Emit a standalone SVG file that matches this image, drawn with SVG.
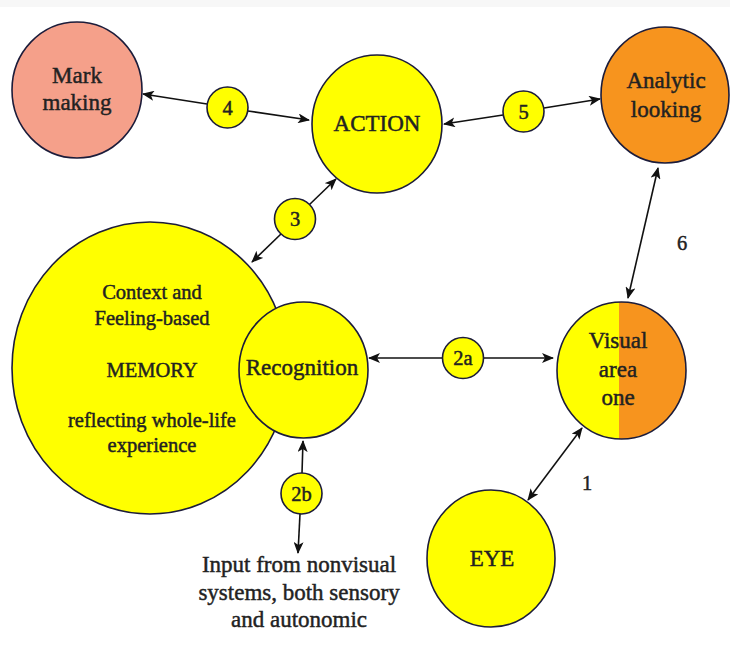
<svg xmlns="http://www.w3.org/2000/svg" width="730" height="651" viewBox="0 0 730 651">
<defs>
<marker id="ah" viewBox="0 0 12 10" markerWidth="12" markerHeight="10" refX="11" refY="5" orient="auto-start-reverse" markerUnits="userSpaceOnUse">
<path d="M0,0 L12,5 L0,10 L3,5 z" fill="#111"/>
</marker>
<clipPath id="vclip">
<ellipse cx="621.5" cy="370.5" rx="64.5" ry="68.5"/>
</clipPath>
<style>
.n{stroke:#1c1c3a;stroke-width:1.6}
.y{fill:#ffff00}
.o{fill:#f7941e}
.p{fill:#f5a08a}
.t{fill:#222;stroke:#222;stroke-width:0.45;text-anchor:middle}
.big{font-size:23px}
.mid{font-size:20.5px}
.c{stroke:#111;stroke-width:1.6;fill:none}
</style>
</defs>
<rect x="0" y="0" width="730" height="651" fill="#fff"/>
<rect x="0" y="0" width="730" height="7" fill="#f7f7f7"/>

<g id="connectors">
<line class="c" x1="207" y1="104" x2="143" y2="94" marker-end="url(#ah)"/>
<line class="c" x1="248" y1="111" x2="309" y2="120" marker-end="url(#ah)"/>
<line class="c" x1="503" y1="115" x2="444" y2="124" marker-end="url(#ah)"/>
<line class="c" x1="544" y1="108" x2="600" y2="99" marker-end="url(#ah)"/>
<line class="c" x1="309" y1="205" x2="336" y2="179" marker-end="url(#ah)"/>
<line class="c" x1="282" y1="233" x2="252" y2="262" marker-end="url(#ah)"/>
<line class="c" x1="658" y1="168" x2="628" y2="298" marker-start="url(#ah)" marker-end="url(#ah)"/>
<line class="c" x1="443" y1="358" x2="369" y2="358" marker-end="url(#ah)"/>
<line class="c" x1="483" y1="358" x2="553" y2="358" marker-end="url(#ah)"/>
<line class="c" x1="302" y1="473" x2="303" y2="441" marker-end="url(#ah)"/>
<line class="c" x1="300" y1="514" x2="298" y2="553" marker-end="url(#ah)"/>
<line class="c" x1="528" y1="500" x2="582" y2="428" marker-start="url(#ah)" marker-end="url(#ah)"/>
</g>

<g font-family="Liberation Serif, Times New Roman, serif">
<g id="mark-making">
<ellipse class="n p" cx="77" cy="90" rx="65" ry="68"/>
<text class="t big" x="77" y="83">Mark</text>
<text class="t big" x="77" y="110">making</text>
</g>

<g id="action">
<ellipse class="n y" cx="377" cy="124" rx="65" ry="69"/>
<text class="t big" x="377" y="131">ACTION</text>
</g>

<g id="analytic-looking">
<ellipse class="n o" cx="665" cy="95" rx="64" ry="68"/>
<text class="t big" x="666" y="88">Analytic</text>
<text class="t big" x="666" y="117">looking</text>
</g>

<g id="memory">
<ellipse class="n y" cx="150" cy="368" rx="138" ry="146"/>
<text class="t mid" x="152" y="299">Context and</text>
<text class="t mid" x="152" y="325">Feeling-based</text>
<text class="t mid" x="152" y="377">MEMORY</text>
<text class="t mid" x="152" y="427">reflecting whole-life</text>
<text class="t mid" x="152" y="452">experience</text>
</g>

<g id="recognition">
<ellipse class="n y" cx="303.5" cy="370" rx="64.5" ry="68"/>
<text class="t big" x="302" y="375">Recognition</text>
</g>

<g id="visual-area-one">
<g clip-path="url(#vclip)">
<rect class="y" x="555" y="300" width="64" height="142"/>
<rect class="o" x="619" y="300" width="70" height="142"/>
</g>
<ellipse class="n" fill="none" cx="621.5" cy="370.5" rx="64.5" ry="68.5"/>
<text class="t big" x="618" y="348">Visual</text>
<text class="t big" x="618" y="377">area</text>
<text class="t big" x="618" y="405">one</text>
</g>

<g id="eye">
<ellipse class="n y" cx="491" cy="558.5" rx="64" ry="68.5"/>
<text class="t big" x="492" y="566">EYE</text>
</g>

<g id="label-4">
<circle class="n y" cx="227.5" cy="107.5" r="20.5"/>
<text class="t mid" x="227.5" y="114.5">4</text>
</g>
<g id="label-5">
<circle class="n y" cx="523.5" cy="111.5" r="20.5"/>
<text class="t mid" x="523.5" y="118.5">5</text>
</g>
<g id="label-3">
<circle class="n y" cx="295" cy="219" r="20.5"/>
<text class="t mid" x="295" y="226">3</text>
</g>
<g id="label-2a">
<circle class="n y" cx="463" cy="358" r="20.5"/>
<text class="t mid" x="463" y="365">2a</text>
</g>
<g id="label-2b">
<circle class="n y" cx="301.5" cy="493.5" r="20.5"/>
<text class="t mid" x="301.5" y="500.5">2b</text>
</g>
<g id="label-6">
<text class="t mid" x="682" y="250">6</text>
</g>
<g id="label-1">
<text class="t mid" x="587" y="490">1</text>
</g>

<g id="input-text">
<text class="t big" x="299" y="572">Input from nonvisual</text>
<text class="t big" x="299" y="600">systems, both sensory</text>
<text class="t big" x="299" y="627">and autonomic</text>
</g>
</g>
</svg>
